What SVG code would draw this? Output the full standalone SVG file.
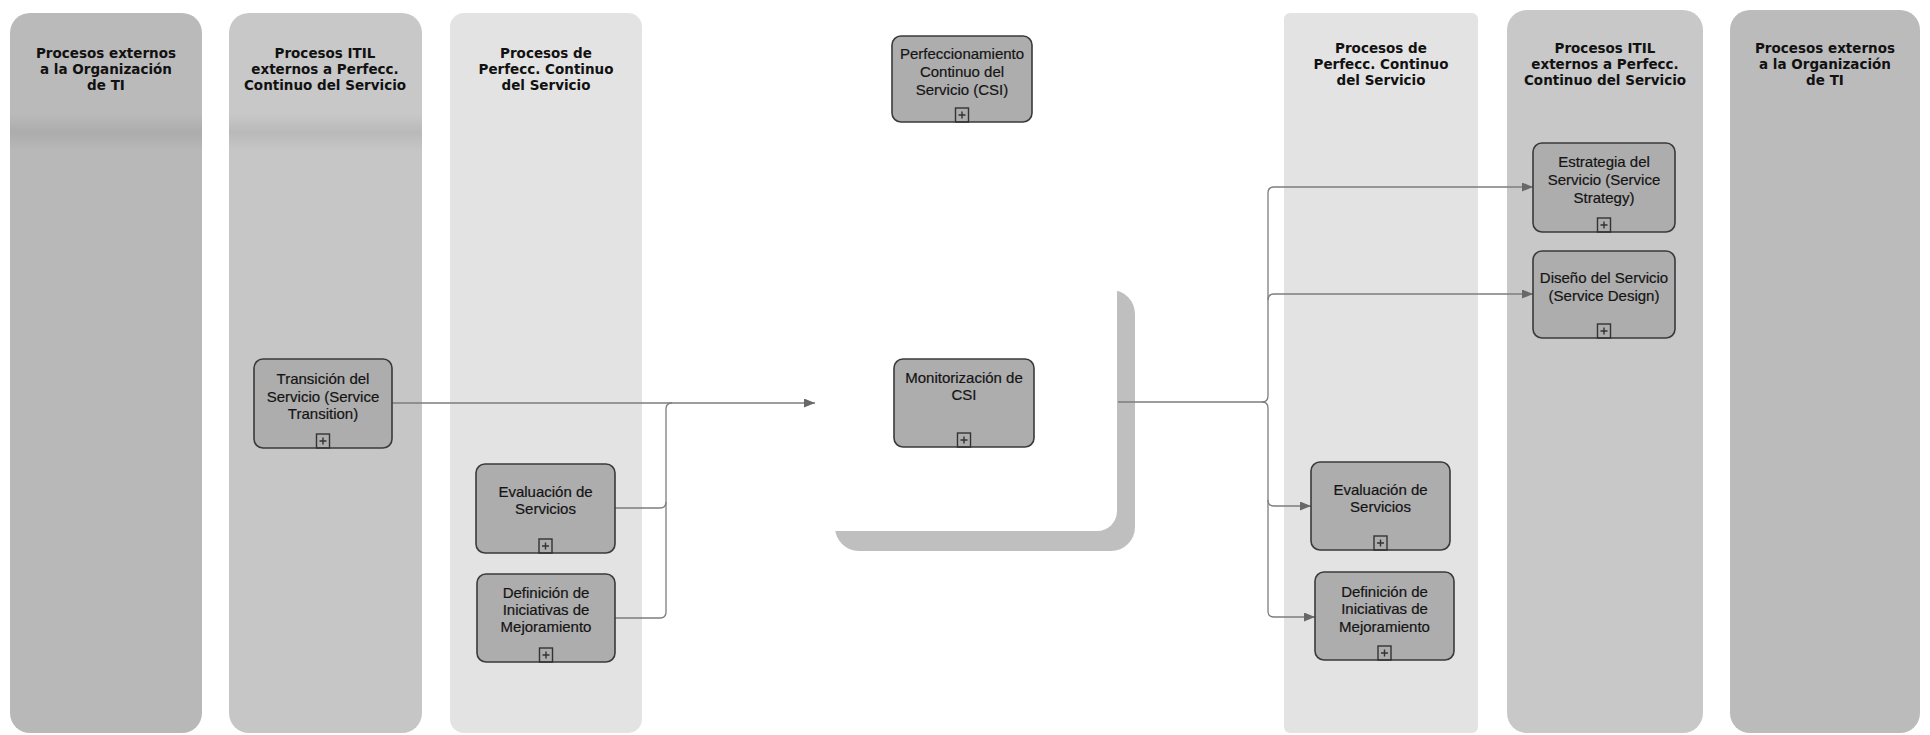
<svg xmlns="http://www.w3.org/2000/svg" width="1930" height="735" viewBox="0 0 1930 735">
<style>
.lane1{fill:url(#g1)}
.lane2{fill:url(#g2)}
.lane1r{fill:#bbbbbb}
.lane2r{fill:#c8c8c8}
.lane3{fill:#e3e3e3}
.hdr{font-family:"DejaVu Sans","Liberation Sans",sans-serif;font-weight:bold;font-size:13.5px;fill:#111;text-anchor:middle}
.node rect.box{fill:#adadad;stroke:#3a3a3a;stroke-width:1.6}
.node text{font-family:"Liberation Sans",Arial,sans-serif;font-size:15px;fill:#141414;stroke:#141414;stroke-width:0.2;text-anchor:middle}
.plus{fill:none;stroke:#333;stroke-width:1.4}
.conn path{fill:none;stroke:#7d7d7d;stroke-width:1.3}
.shadow{fill:#bfbfbf}
</style>
<defs>
<linearGradient id="g1" gradientUnits="userSpaceOnUse" x1="0" y1="0" x2="0" y2="735">
<stop offset="0" stop-color="#bababa"/><stop offset="0.155" stop-color="#bababa"/><stop offset="0.18" stop-color="#acacac"/><stop offset="0.205" stop-color="#b8b8b8"/><stop offset="1" stop-color="#b8b8b8"/>
</linearGradient>
<linearGradient id="g2" gradientUnits="userSpaceOnUse" x1="0" y1="0" x2="0" y2="735">
<stop offset="0" stop-color="#c8c8c8"/><stop offset="0.155" stop-color="#c8c8c8"/><stop offset="0.18" stop-color="#b9b9b9"/><stop offset="0.205" stop-color="#c6c6c6"/><stop offset="1" stop-color="#c6c6c6"/>
</linearGradient>
<marker id="arr" markerUnits="userSpaceOnUse" markerWidth="12" markerHeight="9" refX="11" refY="4.5" orient="auto">
<path d="M0,0 L11,4.5 L0,9 z" fill="#686868"/>
</marker>
<g id="plusicon"><rect class="plus" x="-6.5" y="-14" width="13" height="14"/><path class="plus" d="M-3.5,-7 H3.5 M0,-10.5 V-3.5"/></g>
</defs>
<rect width="1930" height="735" fill="#ffffff"/>

<g id="lanes">
<g id="lane-ext-left"><rect class="lane1" x="10" y="13" width="192" height="720" rx="20"/>
<text class="hdr" x="106" y="58">Procesos externos</text><text class="hdr" x="106" y="74">a la Organización</text><text class="hdr" x="106" y="90">de TI</text></g>
<g id="lane-itil-left"><rect class="lane2" x="229" y="13" width="193" height="720" rx="20"/>
<text class="hdr" x="325" y="58">Procesos ITIL</text><text class="hdr" x="325" y="74">externos a Perfecc.</text><text class="hdr" x="325" y="90">Continuo del Servicio</text></g>
<g id="lane-csi-left"><rect class="lane3" x="450" y="13" width="192" height="720" rx="14"/>
<text class="hdr" x="546" y="58">Procesos de</text><text class="hdr" x="546" y="74">Perfecc. Continuo</text><text class="hdr" x="546" y="90">del Servicio</text></g>
<g id="lane-csi-right"><rect class="lane3" x="1284" y="13" width="194" height="720" rx="6"/>
<text class="hdr" x="1381" y="53">Procesos de</text><text class="hdr" x="1381" y="69">Perfecc. Continuo</text><text class="hdr" x="1381" y="85">del Servicio</text></g>
<g id="lane-itil-right"><rect class="lane2r" x="1507" y="10" width="196" height="723" rx="20"/>
<text class="hdr" x="1605" y="53">Procesos ITIL</text><text class="hdr" x="1605" y="69">externos a Perfecc.</text><text class="hdr" x="1605" y="85">Continuo del Servicio</text></g>
<g id="lane-ext-right"><rect class="lane1r" x="1730" y="10" width="190" height="723" rx="20"/>
<text class="hdr" x="1825" y="53">Procesos externos</text><text class="hdr" x="1825" y="69">a la Organización</text><text class="hdr" x="1825" y="85">de TI</text></g>
</g>

<g id="frame-shadow">
<rect class="shadow" x="835" y="290" width="300" height="261" rx="24"/>
<rect fill="#ffffff" x="817" y="270" width="300" height="261" rx="20"/>
</g>

<g class="conn" id="connectors">
<path d="M392,403 H815" marker-end="url(#arr)"/>
<path d="M615,508 H660 Q666,508 666,502"/>
<path d="M615,618 H660 Q666,618 666,612 V409 Q666,403 672,403"/>
<path d="M1118,402 H1262 Q1268,402 1268,396 V193 Q1268,187 1274,187 H1533" marker-end="url(#arr)"/>
<path d="M1268,300 Q1268,294 1274,294 H1533" marker-end="url(#arr)"/>
<path d="M1262,402 Q1268,402 1268,408 V500 Q1268,506 1274,506 H1311" marker-end="url(#arr)"/>
<path d="M1268,500 V611 Q1268,617 1274,617 H1315" marker-end="url(#arr)"/>
</g>

<g class="node" id="n-csi"><rect class="box" x="892" y="36" width="140" height="86" rx="9"/>
<text x="962" y="59">Perfeccionamiento</text><text x="962" y="77">Continuo del</text><text x="962" y="95">Servicio (CSI)</text>
<use href="#plusicon" x="962" y="122"/></g>

<g class="node" id="n-transicion"><rect class="box" x="254" y="359" width="138" height="89" rx="9"/>
<text x="323" y="384">Transición del</text><text x="323" y="402">Servicio (Service</text><text x="323" y="419">Transition)</text>
<use href="#plusicon" x="323" y="448"/></g>

<g class="node" id="n-eval-left"><rect class="box" x="476" y="464" width="139" height="89" rx="9"/>
<text x="545.5" y="497">Evaluación de</text><text x="545.5" y="514">Servicios</text>
<use href="#plusicon" x="545.5" y="553"/></g>

<g class="node" id="n-def-left"><rect class="box" x="477" y="574" width="138" height="88" rx="9"/>
<text x="546" y="598">Definición de</text><text x="546" y="615">Iniciativas de</text><text x="546" y="632">Mejoramiento</text>
<use href="#plusicon" x="546" y="662"/></g>

<g class="node" id="n-monit"><rect class="box" x="894" y="359" width="140" height="88" rx="9"/>
<text x="964" y="383">Monitorización de</text><text x="964" y="400">CSI</text>
<use href="#plusicon" x="964" y="447"/></g>

<g class="node" id="n-estrategia"><rect class="box" x="1533" y="143" width="142" height="89" rx="9"/>
<text x="1604" y="167">Estrategia del</text><text x="1604" y="185">Servicio (Service</text><text x="1604" y="203">Strategy)</text>
<use href="#plusicon" x="1604" y="232"/></g>

<g class="node" id="n-diseno"><rect class="box" x="1533" y="251" width="142" height="87" rx="9"/>
<text x="1604" y="283">Diseño del Servicio</text><text x="1604" y="301">(Service Design)</text>
<use href="#plusicon" x="1604" y="338"/></g>

<g class="node" id="n-eval-right"><rect class="box" x="1311" y="462" width="139" height="88" rx="9"/>
<text x="1380.5" y="495">Evaluación de</text><text x="1380.5" y="512">Servicios</text>
<use href="#plusicon" x="1380.5" y="550"/></g>

<g class="node" id="n-def-right"><rect class="box" x="1315" y="572" width="139" height="88" rx="9"/>
<text x="1384.5" y="597">Definición de</text><text x="1384.5" y="614">Iniciativas de</text><text x="1384.5" y="632">Mejoramiento</text>
<use href="#plusicon" x="1384.5" y="660"/></g>
</svg>
